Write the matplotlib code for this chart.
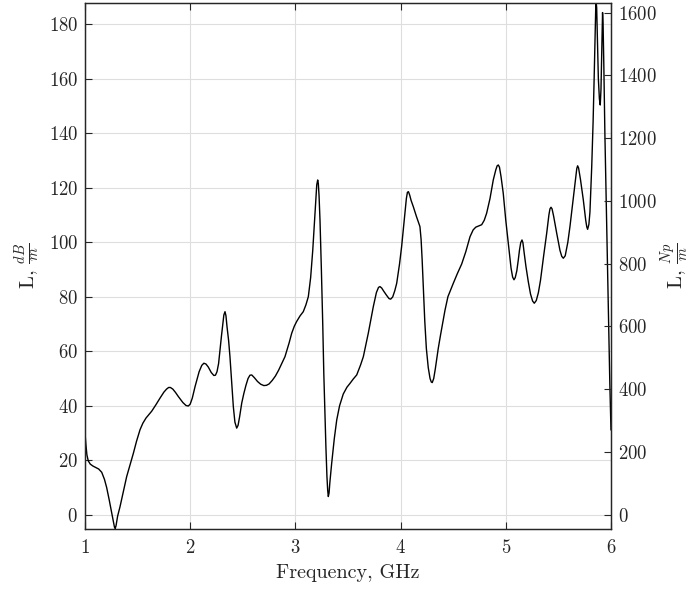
import matplotlib.pyplot as plt

plt.rcParams['font.family'] = 'serif'
plt.rcParams['font.serif'] = ['cmr10']
plt.rcParams['mathtext.fontset'] = 'cm'
plt.rcParams['axes.formatter.use_mathtext'] = True

# attenuation curve (GHz, dB/m)
freq = [1.000, 1.008, 1.018, 1.031, 1.050, 1.075, 1.100, 1.130, 1.159, 1.185,
        1.206, 1.230, 1.254, 1.270, 1.280, 1.287, 1.295, 1.310, 1.333, 1.365,
        1.396, 1.430, 1.460, 1.490, 1.523, 1.550, 1.580, 1.634, 1.673, 1.713,
        1.750, 1.775, 1.795, 1.812, 1.835, 1.860, 1.887, 1.930, 1.960, 1.982,
        2.000, 2.020, 2.046, 2.085, 2.110, 2.130, 2.150, 2.172, 2.200, 2.225,
        2.240, 2.255, 2.270, 2.283, 2.297, 2.310, 2.320, 2.331, 2.340, 2.350,
        2.365, 2.378, 2.395, 2.410, 2.425, 2.442, 2.455, 2.470, 2.490, 2.510,
        2.530, 2.550, 2.568, 2.585, 2.610, 2.640, 2.670, 2.700, 2.725, 2.750,
        2.780, 2.810, 2.840, 2.870, 2.901, 2.940, 2.965, 2.990, 3.012, 3.045,
        3.075, 3.100, 3.123, 3.145, 3.165, 3.186, 3.195, 3.203, 3.212, 3.218,
        3.225, 3.234, 3.247, 3.260, 3.270, 3.281, 3.290, 3.300, 3.307, 3.313,
        3.320, 3.328, 3.345, 3.370, 3.393, 3.420, 3.455, 3.490, 3.519, 3.550,
        3.583, 3.620, 3.646, 3.693, 3.741, 3.770, 3.790, 3.804, 3.820, 3.840,
        3.865, 3.890, 3.906, 3.925, 3.945, 3.963, 3.990, 4.010, 4.040, 4.055,
        4.065, 4.075, 4.087, 4.100, 4.121, 4.150, 4.170, 4.184, 4.195, 4.205,
        4.216, 4.230, 4.245, 4.263, 4.280, 4.292, 4.301, 4.315, 4.330, 4.358,
        4.380, 4.422, 4.450, 4.501, 4.540, 4.581, 4.620, 4.660, 4.690, 4.715,
        4.740, 4.771, 4.795, 4.818, 4.850, 4.881, 4.905, 4.918, 4.929, 4.940,
        4.955, 4.976, 5.000, 5.024, 5.050, 5.065, 5.078, 5.090, 5.105, 5.119,
        5.130, 5.142, 5.154, 5.163, 5.175, 5.192, 5.214, 5.235, 5.255, 5.271,
        5.290, 5.310, 5.330, 5.360, 5.389, 5.410, 5.420, 5.430, 5.440, 5.455,
        5.484, 5.515, 5.532, 5.547, 5.565, 5.590, 5.610, 5.640, 5.665, 5.675,
        5.683, 5.692, 5.710, 5.737, 5.760, 5.770, 5.778, 5.790, 5.800, 5.817,
        5.830, 5.840, 5.850, 5.857, 5.864, 5.872, 5.880, 5.890, 5.898, 5.905,
        5.911, 5.916, 5.920, 5.925, 5.932, 5.942, 5.955, 5.967, 5.978, 5.989,
        6.000]
loss_db = [30.1, 26.0, 22.0, 19.8, 18.6, 17.9, 17.4, 16.8, 15.6, 13.0,
           10.0, 5.5, 0.6, -2.8, -4.5, -5.0, -4.0, -0.5, 3.0, 8.5,
           14.0, 18.5, 22.6, 27.0, 31.2, 33.6, 35.5, 38.0, 40.3, 42.8,
           45.0, 46.1, 46.7, 46.7, 46.1, 44.9, 43.4, 41.2, 40.1, 39.9,
           40.6, 42.8, 47.0, 52.5, 54.8, 55.6, 55.3, 54.2, 52.2, 51.1,
           51.2, 52.5, 55.5, 60.5, 65.5, 70.0, 73.3, 74.5, 73.0, 69.0,
           64.0, 58.0, 48.0, 39.7, 34.0, 31.8, 32.8, 36.0, 41.0, 44.5,
           47.5, 50.0, 51.2, 51.3, 50.3, 48.9, 47.9, 47.4, 47.5, 48.0,
           49.3, 50.9, 53.0, 55.5, 58.0, 63.0, 66.6, 69.2, 70.9, 73.0,
           74.5, 77.0, 80.0, 87.0, 97.0, 110.6, 117.0, 121.0, 122.8, 121.5,
           117.0, 108.0, 90.0, 70.0, 52.0, 37.3, 25.0, 14.0, 9.0, 6.7,
           8.0, 12.0, 18.9, 28.0, 34.8, 40.0, 44.3, 46.8, 48.2, 49.8,
           51.3, 55.0, 58.0, 66.6, 76.4, 81.5, 83.4, 83.7, 83.2, 82.0,
           80.6, 79.3, 79.1, 79.9, 82.2, 84.9, 92.0, 98.4, 110.0, 116.0,
           118.3, 118.5, 117.2, 115.3, 113.0, 109.5, 107.3, 105.7, 101.0, 93.5,
           84.0, 71.0, 61.0, 54.0, 50.0, 48.7, 48.5, 50.0, 53.5, 61.0,
           66.0, 75.0, 80.0, 84.9, 88.5, 92.0, 96.5, 102.0, 104.5, 105.5,
           105.9, 106.4, 108.0, 110.6, 116.0, 122.8, 126.5, 128.0, 128.3, 127.5,
           124.0, 117.9, 108.0, 99.6, 90.5, 87.2, 86.2, 87.0, 89.5, 93.5,
           97.0, 99.8, 100.8, 99.8, 96.0, 91.0, 85.5, 81.0, 78.4, 77.6,
           78.6, 81.5, 86.0, 95.0, 103.3, 110.0, 112.2, 112.8, 112.2, 109.5,
           103.3, 97.0, 94.8, 94.1, 95.0, 100.0, 105.7, 115.5, 124.0, 127.0,
           128.0, 127.2, 123.0, 115.5, 108.0, 105.6, 104.7, 106.5, 111.0, 127.7,
           144.0, 160.0, 178.0, 189.0, 186.0, 173.0, 160.0, 152.5, 150.3, 156.0,
           168.0, 179.0, 184.2, 180.0, 165.0, 140.0, 115.0, 91.0, 70.0, 48.3,
           31.2]

db_per_np = 8.686
x_ticks = [1, 2, 3, 4, 5, 6]
left_ticks = [0, 20, 40, 60, 80, 100, 120, 140, 160, 180]
right_ticks = [0, 200, 400, 600, 800, 1000, 1200, 1400, 1600]
ylo, yhi = -5.2, 187.7

fig = plt.figure(figsize=(6.95, 5.91), dpi=100)
ax = fig.add_axes([0.1223, 0.1049, 0.7568, 0.89])
ax.plot(freq, loss_db, color='black', lw=1.0)
ax.set_xlim(1, 6)
ax.set_ylim(ylo, yhi)
ax.set_xticks(x_ticks)
ax.set_yticks(left_ticks)
ax.grid(True, color='#dedede', lw=0.8)
ax.set_axisbelow(True)
ax.tick_params(direction='in', length=5, width=0.8, colors='#262626',
               labelsize=13.5, top=True, pad=7)
ax.tick_params(axis='y', pad=5)
ax.set_xlabel('Frequency, GHz', fontsize=14.5, color='#262626', labelpad=5)
ax.set_ylabel(r'L, $\frac{dB}{m}$', fontsize=15, color='#262626', labelpad=4)

ax2 = ax.twinx()
ax2.set_ylim(ylo * db_per_np, yhi * db_per_np)
ax2.set_yticks(right_ticks)
ax2.tick_params(direction='in', length=5, width=0.8, colors='#262626',
                labelsize=13.5, pad=5)
ax2.set_ylabel(r'L, $\frac{Np}{m}$', fontsize=15, color='#262626', labelpad=2)

for a in (ax, ax2):
    for s in a.spines.values():
        s.set_color('#262626')
        s.set_linewidth(0.9)

fig.savefig('out.png', dpi=100)
